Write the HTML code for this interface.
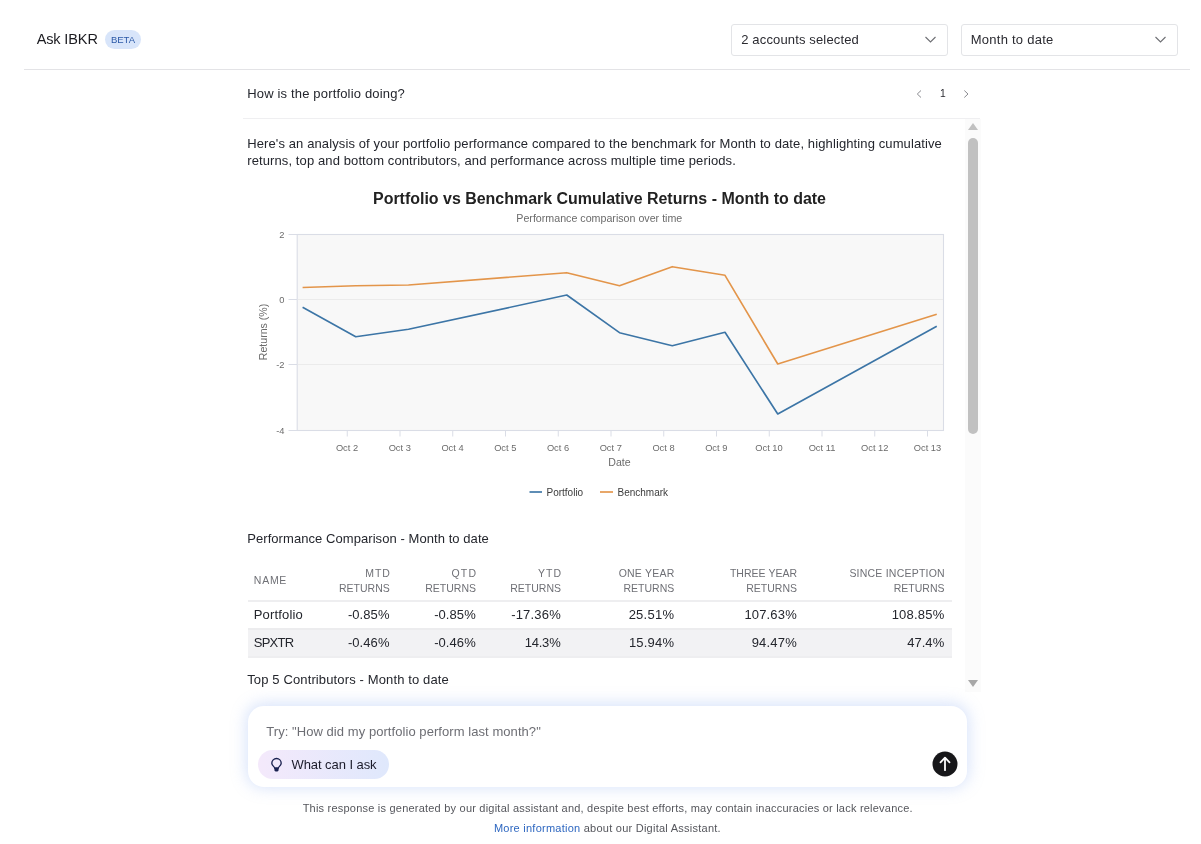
<!DOCTYPE html>
<html><head><meta charset="utf-8">
<style>
*{box-sizing:border-box;margin:0;padding:0}
html,body{width:1201px;height:844px;overflow:hidden;background:#fff}
body{font-family:"Liberation Sans",sans-serif;color:#1f1f25;position:relative;will-change:transform;opacity:.999}
.abs{position:absolute;white-space:nowrap}
.x{position:absolute;white-space:nowrap;line-height:1}
.sel{position:absolute;top:24px;height:32px;width:217px;border:1px solid #e3e4e7;border-radius:3px;background:#fff}
</style></head><body>
<!-- header -->
<div class="abs" style="left:105px;top:29.500px;width:36px;height:19.500px;border-radius:10px;background:#d8e5fa"></div>
<div class="sel" style="left:731px"></div>
<div class="sel" style="left:961px"></div>
<svg class="abs" style="left:924px;top:34.500px" width="13" height="9" viewBox="0 0 13 9"><path d="M1.500 2 L6.500 7 L11.500 2" fill="none" stroke="#6e6f74" stroke-width="1.100"/></svg>
<svg class="abs" style="left:1154px;top:34.500px" width="13" height="9" viewBox="0 0 13 9"><path d="M1.500 2 L6.500 7 L11.500 2" fill="none" stroke="#6e6f74" stroke-width="1.100"/></svg>
<div class="abs" style="left:24px;top:69px;width:1166px;height:1px;background:#e3e3e6"></div>

<!-- pagination -->
<svg class="abs" style="left:915px;top:89px" width="8" height="10" viewBox="0 0 8 10"><path d="M6 1.500 L2.300 5 L6 8.500" fill="none" stroke="#8a8b90" stroke-width="1"/></svg>
<svg class="abs" style="left:962px;top:89px" width="8" height="10" viewBox="0 0 8 10"><path d="M2.300 1.500 L6 5 L2.300 8.500" fill="none" stroke="#8a8b90" stroke-width="1"/></svg>
<div class="abs" style="left:243px;top:117.800px;width:737px;height:1px;background:#efeff1"></div>

<!-- scrollbar -->
<div class="abs" style="left:965px;top:118.500px;width:16px;height:573.500px;background:#fbfbfb"></div>
<div class="abs" style="left:968.200px;top:138px;width:9.800px;height:295.500px;border-radius:5px;background:#c1c1c1"></div>
<svg class="abs" style="left:967px;top:122px" width="12" height="9" viewBox="0 0 12 9"><path d="M1 8 L6 1 L11 8 Z" fill="#c1c1c1"/></svg>
<svg class="abs" style="left:967px;top:679px" width="12" height="9" viewBox="0 0 12 9"><path d="M1 1 L6 8 L11 1 Z" fill="#a8a8a8"/></svg>

<!-- chart -->
<svg class="abs" style="left:243px;top:180px" width="722" height="330" viewBox="243 180 722 330" font-family="Liberation Sans, sans-serif">
<text x="599.500" y="203.800" text-anchor="middle" font-size="16" font-weight="700" fill="#222" textLength="453" lengthAdjust="spacingAndGlyphs">Portfolio vs Benchmark Cumulative Returns - Month to date</text>
<text x="599.300" y="221.500" text-anchor="middle" font-size="10.600" fill="#6b6b6b" textLength="166" lengthAdjust="spacingAndGlyphs">Performance comparison over time</text>
<rect x="297.200" y="234.500" width="646.300" height="196" fill="#f8f8f8" stroke="#dadde6" stroke-width="1.100"/>
<line x1="298" x2="943" y1="299.500" y2="299.500" stroke="#ebebeb"/>
<line x1="298" x2="943" y1="364.500" y2="364.500" stroke="#ebebeb"/>
<g stroke="#dadde6">
<line x1="288.500" x2="297" y1="234.500" y2="234.500"/><line x1="288.500" x2="297" y1="299.500" y2="299.500"/><line x1="288.500" x2="297" y1="364.500" y2="364.500"/><line x1="288.500" x2="297" y1="430.500" y2="430.500"/>
</g>
<g font-size="9.300" fill="#6b6b6b" text-anchor="end"><text x="284.500" y="237.500">2</text><text x="284.500" y="302.500">0</text><text x="284.500" y="368.400">-2</text><text x="284.500" y="433.900">-4</text></g>
<text transform="translate(266.600,332) rotate(-90)" text-anchor="middle" font-size="10.600" fill="#6b6b6b">Returns (%)</text>
<g font-size="9.300" fill="#6b6b6b" text-anchor="middle">
<text x="347" y="450.700">Oct 2</text><text x="399.750" y="450.700">Oct 3</text><text x="452.500" y="450.700">Oct 4</text><text x="505.250" y="450.700">Oct 5</text><text x="558" y="450.700">Oct 6</text><text x="610.750" y="450.700">Oct 7</text><text x="663.500" y="450.700">Oct 8</text><text x="716.250" y="450.700">Oct 9</text><text x="769" y="450.700">Oct 10</text><text x="822" y="450.700">Oct 11</text><text x="874.750" y="450.700">Oct 12</text><text x="927.500" y="450.700">Oct 13</text>
</g>
<g stroke="#dadde6">
<line x1="347.250" x2="347.250" y1="431" y2="436.500"/><line x1="400" x2="400" y1="431" y2="436.500"/><line x1="452.750" x2="452.750" y1="431" y2="436.500"/><line x1="505.500" x2="505.500" y1="431" y2="436.500"/><line x1="558.250" x2="558.250" y1="431" y2="436.500"/><line x1="611" x2="611" y1="431" y2="436.500"/><line x1="663.750" x2="663.750" y1="431" y2="436.500"/><line x1="716.500" x2="716.500" y1="431" y2="436.500"/><line x1="769.250" x2="769.250" y1="431" y2="436.500"/><line x1="822" x2="822" y1="431" y2="436.500"/><line x1="874.750" x2="874.750" y1="431" y2="436.500"/><line x1="927.500" x2="927.500" y1="431" y2="436.500"/>
</g>
<text x="619.500" y="465.600" text-anchor="middle" font-size="10.600" fill="#6b6b6b">Date</text>
<polyline fill="none" stroke="#e3954a" stroke-width="1.650" stroke-linejoin="round" points="302.600,287.500 355.750,285.700 408.500,285 566.750,272.700 619.500,285.700 672.250,266.700 725,275.300 777.750,364 936.750,314.300"/>
<polyline fill="none" stroke="#3c75a6" stroke-width="1.650" stroke-linejoin="round" points="302.600,307.300 355.750,336.700 408.500,329.300 566.750,295 619.500,332.700 672.250,345.700 725,332.300 777.750,414 936.750,326.300"/>
<line x1="529.500" x2="542" y1="492" y2="492" stroke="#3c75a6" stroke-width="1.650"/>
<text x="546.500" y="495.600" font-size="10" fill="#3c3c3c">Portfolio</text>
<line x1="600" x2="613" y1="492" y2="492" stroke="#e3954a" stroke-width="1.650"/>
<text x="617.500" y="495.600" font-size="10" fill="#3c3c3c">Benchmark</text>
</svg>

<!-- table rules -->
<div class="abs" style="left:248px;top:600px;width:703.500px;height:2px;background:#eeeef0"></div>
<div class="abs" style="left:248px;top:628px;width:703.500px;height:30px;background:#f2f2f4;border-top:2px solid #ececee;border-bottom:2px solid #eeeef0"></div>

<!-- fade + input -->
<div class="abs" style="left:248px;top:706px;width:719px;height:81px;border-radius:16px;background:#fff;box-shadow:0 -1px 15px 2px rgba(140,172,240,.34)"></div>
<div class="abs" style="left:258px;top:750px;width:131px;height:29px;border-radius:15px;background:linear-gradient(90deg,#f4e9fb,#dfe8fc)"></div>
<svg class="abs" style="left:269px;top:756px" width="15" height="18" viewBox="0 0 15 18"><path d="M5.700 12.200 C5.700 10.600 2.800 9.900 2.800 7.200 A4.700 4.700 0 0 1 12.200 7.200 C12.200 9.900 9.300 10.600 9.300 12.200 Z" fill="none" stroke="#1a2150" stroke-width="1.350" stroke-linejoin="round"/><rect x="5.400" y="11.600" width="4.200" height="3.800" rx="1.300" fill="#1a2150"/></svg>
<svg class="abs" style="left:931.800px;top:751.300px" width="26" height="26" viewBox="0 0 26 26"><circle cx="13" cy="13" r="12.500" fill="#17171a"/><path d="M13 19.200 V6.800 M8.500 11.300 L13 6.600 L17.500 11.300" fill="none" stroke="#fff" stroke-width="1.800" stroke-linecap="round" stroke-linejoin="round"/></svg>

<div class="x" id="t0" style="top:31.93px;font-size:14.5px;color:#1b1b20;letter-spacing:-0.115px;left:36.63px;">Ask IBKR</div>
<div class="x" id="t1" style="top:34.96px;font-size:9.5px;color:#2c5aa8;letter-spacing:0.010px;left:110.93px;">BETA</div>
<div class="x" id="t2" style="top:33.25px;font-size:13px;color:#2a2a30;letter-spacing:0.147px;left:741.22px;">2 accounts selected</div>
<div class="x" id="t3" style="top:33.25px;font-size:13px;color:#2a2a30;letter-spacing:0.255px;left:970.72px;">Month to date</div>
<div class="x" id="t4" style="top:87.00px;font-size:13px;color:#24262d;letter-spacing:0.168px;left:247.22px;">How is the portfolio doing?</div>
<div class="x" id="t5" style="top:89.48px;font-size:10.3px;color:#2a2a30;letter-spacing:0.000px;left:939.98px;">1</div>
<div class="x" id="t6" style="top:137.00px;font-size:13px;color:#24262d;letter-spacing:0.111px;left:247.22px;">Here's an analysis of your portfolio performance compared to the benchmark for Month to date, highlighting cumulative</div>
<div class="x" id="t7" style="top:154.20px;font-size:13px;color:#24262d;letter-spacing:0.107px;left:247.22px;">returns, top and bottom contributors, and performance across multiple time periods.</div>
<div class="x" id="t8" style="top:531.50px;font-size:13px;color:#24262d;letter-spacing:0.065px;left:247.22px;">Performance Comparison - Month to date</div>
<div class="x" id="t9" style="top:672.75px;font-size:13px;color:#24262d;letter-spacing:0.130px;left:247.22px;">Top 5 Contributors - Month to date</div>
<div class="x" id="t10" style="top:575.11px;font-size:10.5px;color:#6f7076;letter-spacing:0.722px;left:253.87px;">NAME</div>
<div class="x" id="t11" style="top:567.86px;font-size:10.5px;color:#6f7076;letter-spacing:1.005px;right:810.12px;">MTD</div>
<div class="x" id="t12" style="top:582.61px;font-size:10.5px;color:#6f7076;letter-spacing:0.041px;right:811.08px;">RETURNS</div>
<div class="x" id="t13" style="top:567.86px;font-size:10.5px;color:#6f7076;letter-spacing:1.294px;right:723.58px;">QTD</div>
<div class="x" id="t14" style="top:582.61px;font-size:10.5px;color:#6f7076;letter-spacing:0.041px;right:724.83px;">RETURNS</div>
<div class="x" id="t15" style="top:567.86px;font-size:10.5px;color:#6f7076;letter-spacing:1.130px;right:638.74px;">YTD</div>
<div class="x" id="t16" style="top:582.61px;font-size:10.5px;color:#6f7076;letter-spacing:0.041px;right:639.83px;">RETURNS</div>
<div class="x" id="t17" style="top:567.86px;font-size:10.5px;color:#6f7076;letter-spacing:0.240px;right:526.38px;">ONE YEAR</div>
<div class="x" id="t18" style="top:582.61px;font-size:10.5px;color:#6f7076;letter-spacing:0.041px;right:526.58px;">RETURNS</div>
<div class="x" id="t19" style="top:567.86px;font-size:10.5px;color:#6f7076;letter-spacing:0.038px;right:403.83px;">THREE YEAR</div>
<div class="x" id="t20" style="top:582.61px;font-size:10.5px;color:#6f7076;letter-spacing:0.041px;right:403.83px;">RETURNS</div>
<div class="x" id="t21" style="top:567.86px;font-size:10.5px;color:#6f7076;letter-spacing:0.219px;right:256.15px;">SINCE INCEPTION</div>
<div class="x" id="t22" style="top:582.61px;font-size:10.5px;color:#6f7076;letter-spacing:0.041px;right:256.33px;">RETURNS</div>
<div class="x" id="t23" style="top:608.25px;font-size:13px;color:#24262d;letter-spacing:0.170px;left:253.72px;">Portfolio</div>
<div class="x" id="t24" style="top:636.00px;font-size:13px;color:#24262d;letter-spacing:-0.758px;left:253.72px;">SPXTR</div>
<div class="x" id="t25" style="top:608.25px;font-size:13px;color:#24262d;letter-spacing:0.071px;right:811.48px;">-0.85%</div>
<div class="x" id="t26" style="top:608.25px;font-size:13px;color:#24262d;letter-spacing:0.071px;right:725.23px;">-0.85%</div>
<div class="x" id="t27" style="top:608.25px;font-size:13px;color:#24262d;letter-spacing:0.190px;right:640.11px;">-17.36%</div>
<div class="x" id="t28" style="top:608.25px;font-size:13px;color:#24262d;letter-spacing:0.243px;right:526.81px;">25.51%</div>
<div class="x" id="t29" style="top:608.25px;font-size:13px;color:#24262d;letter-spacing:0.164px;right:404.14px;">107.63%</div>
<div class="x" id="t30" style="top:608.25px;font-size:13px;color:#24262d;letter-spacing:0.205px;right:256.59px;">108.85%</div>
<div class="x" id="t31" style="top:636.00px;font-size:13px;color:#24262d;letter-spacing:0.071px;right:811.48px;">-0.46%</div>
<div class="x" id="t32" style="top:636.00px;font-size:13px;color:#24262d;letter-spacing:0.071px;right:725.23px;">-0.46%</div>
<div class="x" id="t33" style="top:636.00px;font-size:13px;color:#24262d;letter-spacing:-0.204px;right:640.50px;">14.3%</div>
<div class="x" id="t34" style="top:636.00px;font-size:13px;color:#24262d;letter-spacing:0.193px;right:526.86px;">15.94%</div>
<div class="x" id="t35" style="top:636.00px;font-size:13px;color:#24262d;letter-spacing:0.193px;right:404.11px;">94.47%</div>
<div class="x" id="t36" style="top:636.00px;font-size:13px;color:#24262d;letter-spacing:0.046px;right:256.75px;">47.4%</div>
<div class="x" id="t37" style="top:724.50px;font-size:13px;color:#6d6e74;letter-spacing:0.061px;left:266.22px;">Try: "How did my portfolio perform last month?"</div>
<div class="x" id="t38" style="top:757.75px;font-size:13px;color:#1b1b2a;letter-spacing:-0.071px;left:291.52px;">What can I ask</div>
<div class="x" id="t39" style="top:803.19px;font-size:11px;color:#55565c;letter-spacing:0.217px;left:302.64px;">This response is generated by our digital assistant and, despite best efforts, may contain inaccuracies or lack relevance.</div>
<div class="x" id="t40" style="top:822.89px;font-size:11px;color:#55565c;letter-spacing:0.247px;left:493.94px;"><span style="color:#2e67c0">More information</span> about our Digital Assistant.</div>
</body></html>
